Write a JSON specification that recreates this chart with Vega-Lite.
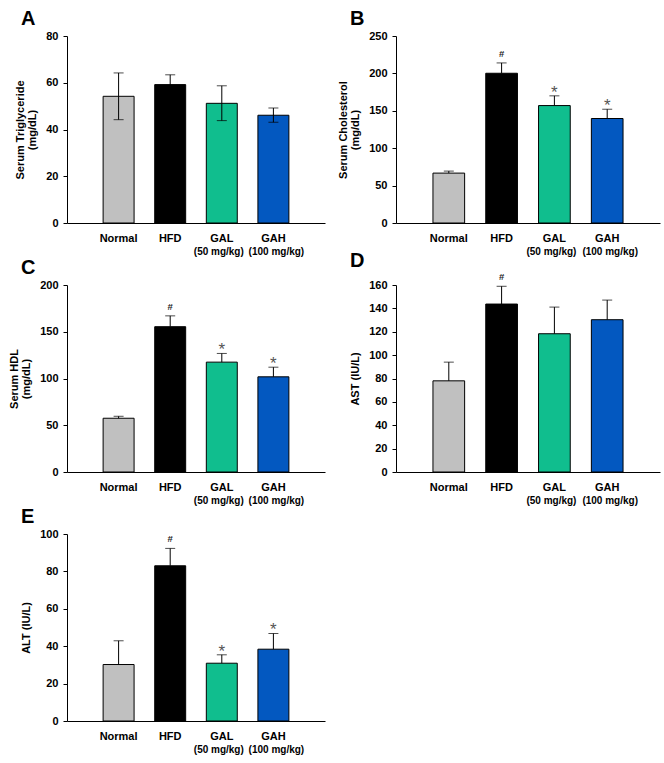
{
  "$schema": "https://vega.github.io/schema/vega-lite/v6.json",
  "background": "white",
  "padding": {"left": 8, "top": 9, "right": 2, "bottom": 2},
  "datasets": {
    "d": [
      {"panel": "A", "group": "Normal", "mean": 54.2, "lower": 44.2, "upper": 64.2, "sig": ""},
      {"panel": "A", "group": "HFD", "mean": 59.2, "lower": 55.0, "upper": 63.4, "sig": ""},
      {"panel": "A", "group": "GAL", "mean": 51.2, "lower": 43.8, "upper": 58.7, "sig": ""},
      {"panel": "A", "group": "GAH", "mean": 46.1, "lower": 43.1, "upper": 49.2, "sig": ""},
      {"panel": "B", "group": "Normal", "mean": 66.7, "lower": 66.7, "upper": 69.4, "sig": ""},
      {"panel": "B", "group": "HFD", "mean": 200.2, "lower": 200.2, "upper": 214.0, "sig": "#"},
      {"panel": "B", "group": "GAL", "mean": 157.0, "lower": 157.0, "upper": 170.0, "sig": "*"},
      {"panel": "B", "group": "GAH", "mean": 139.7, "lower": 139.7, "upper": 152.1, "sig": "*"},
      {"panel": "C", "group": "Normal", "mean": 57.5, "lower": 57.5, "upper": 59.6, "sig": ""},
      {"panel": "C", "group": "HFD", "mean": 155.4, "lower": 155.4, "upper": 167.0, "sig": "#"},
      {"panel": "C", "group": "GAL", "mean": 117.5, "lower": 117.5, "upper": 126.8, "sig": "*"},
      {"panel": "C", "group": "GAH", "mean": 101.8, "lower": 101.8, "upper": 112.1, "sig": "*"},
      {"panel": "D", "group": "Normal", "mean": 78.0, "lower": 78.0, "upper": 94.0, "sig": ""},
      {"panel": "D", "group": "HFD", "mean": 143.7, "lower": 143.7, "upper": 158.9, "sig": "#"},
      {"panel": "D", "group": "GAL", "mean": 118.3, "lower": 118.3, "upper": 141.1, "sig": ""},
      {"panel": "D", "group": "GAH", "mean": 130.3, "lower": 130.3, "upper": 147.1, "sig": ""},
      {"panel": "E", "group": "Normal", "mean": 30.2, "lower": 30.2, "upper": 42.9, "sig": ""},
      {"panel": "E", "group": "HFD", "mean": 83.0, "lower": 83.0, "upper": 92.3, "sig": "#"},
      {"panel": "E", "group": "GAL", "mean": 30.9, "lower": 30.9, "upper": 35.4, "sig": "*"},
      {"panel": "E", "group": "GAH", "mean": 38.4, "lower": 38.4, "upper": 46.8, "sig": "*"}
    ]
  },
  "columns": 2,
  "bounds": "flush",
  "spacing": {"row": 62, "column": 71},
  "concat": [
    {
      "title": {"text": "A"},
      "width": 258, "height": 187,
      "data": {"name": "d"},
      "transform": [{"filter": "datum.panel == 'A'"}],
      "resolve": {"axis": {"x": "independent"}},
      "layer": [
        {
          "mark": {"type": "bar", "stroke": "black", "strokeWidth": 1},
          "encoding": {
            "x": {"field": "group", "type": "nominal", "sort": ["Normal", "HFD", "GAL", "GAH"], "scale": {"paddingInner": 0.4, "paddingOuter": 0.7}, "axis": {"orient": "bottom", "title": null}},
            "y": {"field": "mean", "type": "quantitative", "scale": {"domain": [0, 80]}, "axis": {"values": [0, 20, 40, 60, 80], "title": ["Serum Triglyceride", "(mg/dL)"]}},
            "color": {"field": "group", "type": "nominal", "scale": {"domain": ["Normal", "HFD", "GAL", "GAH"], "range": ["#c0c0c0", "#000000", "#10be8e", "#0358c0"]}, "legend": null}
          }
        },
        {
          "mark": {"type": "rule", "color": "black", "strokeWidth": 1},
          "encoding": {
            "x": {"field": "group", "type": "nominal", "sort": ["Normal", "HFD", "GAL", "GAH"], "axis": {"orient": "bottom", "title": null, "domain": false, "labelPadding": 23, "labelFontSize": 10, "labelOffset": {"condition": {"test": "datum.value == 'GAL'", "value": -3}, "value": 3}, "labelExpr": "datum.value == 'GAL' ? '(50 mg/kg)' : datum.value == 'GAH' ? '(100 mg/kg)' : ''"}},
            "y": {"field": "lower", "type": "quantitative", "scale": {"domain": [0, 80]}, "axis": {"values": [0, 20, 40, 60, 80], "title": ["Serum Triglyceride", "(mg/dL)"]}},
            "y2": {"field": "upper"}
          }
        },
        {
          "mark": {"type": "tick", "color": "black", "thickness": 1, "size": 10},
          "encoding": {
            "x": {"field": "group", "type": "nominal", "sort": ["Normal", "HFD", "GAL", "GAH"], "axis": null},
            "y": {"field": "upper", "type": "quantitative", "scale": {"domain": [0, 80]}, "axis": {"values": [0, 20, 40, 60, 80], "title": ["Serum Triglyceride", "(mg/dL)"]}}
          }
        },
        {
          "mark": {"type": "tick", "color": "black", "thickness": 1, "size": 10},
          "encoding": {
            "x": {"field": "group", "type": "nominal", "sort": ["Normal", "HFD", "GAL", "GAH"], "axis": null},
            "y": {"field": "lower", "type": "quantitative", "scale": {"domain": [0, 80]}, "axis": {"values": [0, 20, 40, 60, 80], "title": ["Serum Triglyceride", "(mg/dL)"]}}
          }
        }
      ]
    },
    {
      "title": {"text": "B"},
      "width": 264, "height": 187,
      "data": {"name": "d"},
      "transform": [{"filter": "datum.panel == 'B'"}],
      "resolve": {"axis": {"x": "independent"}},
      "layer": [
        {
          "mark": {"type": "bar", "stroke": "black", "strokeWidth": 1},
          "encoding": {
            "x": {"field": "group", "type": "nominal", "sort": ["Normal", "HFD", "GAL", "GAH"], "scale": {"paddingInner": 0.4, "paddingOuter": 0.7}, "axis": {"orient": "bottom", "title": null}},
            "y": {"field": "mean", "type": "quantitative", "scale": {"domain": [0, 250]}, "axis": {"values": [0, 50, 100, 150, 200, 250], "title": ["Serum Cholesterol", "(mg/dL)"]}},
            "color": {"field": "group", "type": "nominal", "scale": {"domain": ["Normal", "HFD", "GAL", "GAH"], "range": ["#c0c0c0", "#000000", "#10be8e", "#0358c0"]}, "legend": null}
          }
        },
        {
          "mark": {"type": "rule", "color": "black", "strokeWidth": 1},
          "encoding": {
            "x": {"field": "group", "type": "nominal", "sort": ["Normal", "HFD", "GAL", "GAH"], "axis": {"orient": "bottom", "title": null, "domain": false, "labelPadding": 23, "labelFontSize": 10, "labelOffset": {"condition": {"test": "datum.value == 'GAL'", "value": -3}, "value": 3}, "labelExpr": "datum.value == 'GAL' ? '(50 mg/kg)' : datum.value == 'GAH' ? '(100 mg/kg)' : ''"}},
            "y": {"field": "lower", "type": "quantitative", "scale": {"domain": [0, 250]}, "axis": {"values": [0, 50, 100, 150, 200, 250], "title": ["Serum Cholesterol", "(mg/dL)"]}},
            "y2": {"field": "upper"}
          }
        },
        {
          "mark": {"type": "tick", "color": "black", "thickness": 1, "size": 10},
          "encoding": {
            "x": {"field": "group", "type": "nominal", "sort": ["Normal", "HFD", "GAL", "GAH"], "axis": null},
            "y": {"field": "upper", "type": "quantitative", "scale": {"domain": [0, 250]}, "axis": {"values": [0, 50, 100, 150, 200, 250], "title": ["Serum Cholesterol", "(mg/dL)"]}}
          }
        },
        {
          "transform": [{"filter": "datum.sig == '#'"}],
          "mark": {"type": "text", "fontSize": 9.5, "fontWeight": "bold", "baseline": "alphabetic", "dy": -6, "color": "#222"},
          "encoding": {
            "x": {"field": "group", "type": "nominal", "sort": ["Normal", "HFD", "GAL", "GAH"], "axis": null},
            "y": {"field": "upper", "type": "quantitative", "scale": {"domain": [0, 250]}, "axis": {"values": [0, 50, 100, 150, 200, 250], "title": ["Serum Cholesterol", "(mg/dL)"]}},
            "text": {"field": "sig"}
          }
        },
        {
          "transform": [{"filter": "datum.sig == '*'"}],
          "mark": {"type": "text", "fontSize": 17, "baseline": "alphabetic", "dy": 2, "color": "#555"},
          "encoding": {
            "x": {"field": "group", "type": "nominal", "sort": ["Normal", "HFD", "GAL", "GAH"], "axis": null},
            "y": {"field": "upper", "type": "quantitative", "scale": {"domain": [0, 250]}, "axis": {"values": [0, 50, 100, 150, 200, 250], "title": ["Serum Cholesterol", "(mg/dL)"]}},
            "text": {"field": "sig"}
          }
        }
      ]
    },
    {
      "title": {"text": "C"},
      "width": 258, "height": 187,
      "data": {"name": "d"},
      "transform": [{"filter": "datum.panel == 'C'"}],
      "resolve": {"axis": {"x": "independent"}},
      "layer": [
        {
          "mark": {"type": "bar", "stroke": "black", "strokeWidth": 1},
          "encoding": {
            "x": {"field": "group", "type": "nominal", "sort": ["Normal", "HFD", "GAL", "GAH"], "scale": {"paddingInner": 0.4, "paddingOuter": 0.7}, "axis": {"orient": "bottom", "title": null}},
            "y": {"field": "mean", "type": "quantitative", "scale": {"domain": [0, 200]}, "axis": {"values": [0, 50, 100, 150, 200], "title": ["Serum HDL", "(mg/dL)"]}},
            "color": {"field": "group", "type": "nominal", "scale": {"domain": ["Normal", "HFD", "GAL", "GAH"], "range": ["#c0c0c0", "#000000", "#10be8e", "#0358c0"]}, "legend": null}
          }
        },
        {
          "mark": {"type": "rule", "color": "black", "strokeWidth": 1},
          "encoding": {
            "x": {"field": "group", "type": "nominal", "sort": ["Normal", "HFD", "GAL", "GAH"], "axis": {"orient": "bottom", "title": null, "domain": false, "labelPadding": 23, "labelFontSize": 10, "labelOffset": {"condition": {"test": "datum.value == 'GAL'", "value": -3}, "value": 3}, "labelExpr": "datum.value == 'GAL' ? '(50 mg/kg)' : datum.value == 'GAH' ? '(100 mg/kg)' : ''"}},
            "y": {"field": "lower", "type": "quantitative", "scale": {"domain": [0, 200]}, "axis": {"values": [0, 50, 100, 150, 200], "title": ["Serum HDL", "(mg/dL)"]}},
            "y2": {"field": "upper"}
          }
        },
        {
          "mark": {"type": "tick", "color": "black", "thickness": 1, "size": 10},
          "encoding": {
            "x": {"field": "group", "type": "nominal", "sort": ["Normal", "HFD", "GAL", "GAH"], "axis": null},
            "y": {"field": "upper", "type": "quantitative", "scale": {"domain": [0, 200]}, "axis": {"values": [0, 50, 100, 150, 200], "title": ["Serum HDL", "(mg/dL)"]}}
          }
        },
        {
          "transform": [{"filter": "datum.sig == '#'"}],
          "mark": {"type": "text", "fontSize": 9.5, "fontWeight": "bold", "baseline": "alphabetic", "dy": -6, "color": "#222"},
          "encoding": {
            "x": {"field": "group", "type": "nominal", "sort": ["Normal", "HFD", "GAL", "GAH"], "axis": null},
            "y": {"field": "upper", "type": "quantitative", "scale": {"domain": [0, 200]}, "axis": {"values": [0, 50, 100, 150, 200], "title": ["Serum HDL", "(mg/dL)"]}},
            "text": {"field": "sig"}
          }
        },
        {
          "transform": [{"filter": "datum.sig == '*'"}],
          "mark": {"type": "text", "fontSize": 17, "baseline": "alphabetic", "dy": 2, "color": "#555"},
          "encoding": {
            "x": {"field": "group", "type": "nominal", "sort": ["Normal", "HFD", "GAL", "GAH"], "axis": null},
            "y": {"field": "upper", "type": "quantitative", "scale": {"domain": [0, 200]}, "axis": {"values": [0, 50, 100, 150, 200], "title": ["Serum HDL", "(mg/dL)"]}},
            "text": {"field": "sig"}
          }
        }
      ]
    },
    {
      "title": {"text": "D"},
      "width": 264, "height": 187,
      "data": {"name": "d"},
      "transform": [{"filter": "datum.panel == 'D'"}],
      "resolve": {"axis": {"x": "independent"}},
      "layer": [
        {
          "mark": {"type": "bar", "stroke": "black", "strokeWidth": 1},
          "encoding": {
            "x": {"field": "group", "type": "nominal", "sort": ["Normal", "HFD", "GAL", "GAH"], "scale": {"paddingInner": 0.4, "paddingOuter": 0.7}, "axis": {"orient": "bottom", "title": null}},
            "y": {"field": "mean", "type": "quantitative", "scale": {"domain": [0, 160]}, "axis": {"values": [0, 20, 40, 60, 80, 100, 120, 140, 160], "title": "AST (IU/L)"}},
            "color": {"field": "group", "type": "nominal", "scale": {"domain": ["Normal", "HFD", "GAL", "GAH"], "range": ["#c0c0c0", "#000000", "#10be8e", "#0358c0"]}, "legend": null}
          }
        },
        {
          "mark": {"type": "rule", "color": "black", "strokeWidth": 1},
          "encoding": {
            "x": {"field": "group", "type": "nominal", "sort": ["Normal", "HFD", "GAL", "GAH"], "axis": {"orient": "bottom", "title": null, "domain": false, "labelPadding": 23, "labelFontSize": 10, "labelOffset": {"condition": {"test": "datum.value == 'GAL'", "value": -3}, "value": 3}, "labelExpr": "datum.value == 'GAL' ? '(50 mg/kg)' : datum.value == 'GAH' ? '(100 mg/kg)' : ''"}},
            "y": {"field": "lower", "type": "quantitative", "scale": {"domain": [0, 160]}, "axis": {"values": [0, 20, 40, 60, 80, 100, 120, 140, 160], "title": "AST (IU/L)"}},
            "y2": {"field": "upper"}
          }
        },
        {
          "mark": {"type": "tick", "color": "black", "thickness": 1, "size": 10},
          "encoding": {
            "x": {"field": "group", "type": "nominal", "sort": ["Normal", "HFD", "GAL", "GAH"], "axis": null},
            "y": {"field": "upper", "type": "quantitative", "scale": {"domain": [0, 160]}, "axis": {"values": [0, 20, 40, 60, 80, 100, 120, 140, 160], "title": "AST (IU/L)"}}
          }
        },
        {
          "transform": [{"filter": "datum.sig == '#'"}],
          "mark": {"type": "text", "fontSize": 9.5, "fontWeight": "bold", "baseline": "alphabetic", "dy": -6, "color": "#222"},
          "encoding": {
            "x": {"field": "group", "type": "nominal", "sort": ["Normal", "HFD", "GAL", "GAH"], "axis": null},
            "y": {"field": "upper", "type": "quantitative", "scale": {"domain": [0, 160]}, "axis": {"values": [0, 20, 40, 60, 80, 100, 120, 140, 160], "title": "AST (IU/L)"}},
            "text": {"field": "sig"}
          }
        }
      ]
    },
    {
      "title": {"text": "E"},
      "width": 258, "height": 187,
      "data": {"name": "d"},
      "transform": [{"filter": "datum.panel == 'E'"}],
      "resolve": {"axis": {"x": "independent"}},
      "layer": [
        {
          "mark": {"type": "bar", "stroke": "black", "strokeWidth": 1},
          "encoding": {
            "x": {"field": "group", "type": "nominal", "sort": ["Normal", "HFD", "GAL", "GAH"], "scale": {"paddingInner": 0.4, "paddingOuter": 0.7}, "axis": {"orient": "bottom", "title": null}},
            "y": {"field": "mean", "type": "quantitative", "scale": {"domain": [0, 100]}, "axis": {"values": [0, 20, 40, 60, 80, 100], "title": "ALT (IU/L)"}},
            "color": {"field": "group", "type": "nominal", "scale": {"domain": ["Normal", "HFD", "GAL", "GAH"], "range": ["#c0c0c0", "#000000", "#10be8e", "#0358c0"]}, "legend": null}
          }
        },
        {
          "mark": {"type": "rule", "color": "black", "strokeWidth": 1},
          "encoding": {
            "x": {"field": "group", "type": "nominal", "sort": ["Normal", "HFD", "GAL", "GAH"], "axis": {"orient": "bottom", "title": null, "domain": false, "labelPadding": 23, "labelFontSize": 10, "labelOffset": {"condition": {"test": "datum.value == 'GAL'", "value": -3}, "value": 3}, "labelExpr": "datum.value == 'GAL' ? '(50 mg/kg)' : datum.value == 'GAH' ? '(100 mg/kg)' : ''"}},
            "y": {"field": "lower", "type": "quantitative", "scale": {"domain": [0, 100]}, "axis": {"values": [0, 20, 40, 60, 80, 100], "title": "ALT (IU/L)"}},
            "y2": {"field": "upper"}
          }
        },
        {
          "mark": {"type": "tick", "color": "black", "thickness": 1, "size": 10},
          "encoding": {
            "x": {"field": "group", "type": "nominal", "sort": ["Normal", "HFD", "GAL", "GAH"], "axis": null},
            "y": {"field": "upper", "type": "quantitative", "scale": {"domain": [0, 100]}, "axis": {"values": [0, 20, 40, 60, 80, 100], "title": "ALT (IU/L)"}}
          }
        },
        {
          "transform": [{"filter": "datum.sig == '#'"}],
          "mark": {"type": "text", "fontSize": 9.5, "fontWeight": "bold", "baseline": "alphabetic", "dy": -6, "color": "#222"},
          "encoding": {
            "x": {"field": "group", "type": "nominal", "sort": ["Normal", "HFD", "GAL", "GAH"], "axis": null},
            "y": {"field": "upper", "type": "quantitative", "scale": {"domain": [0, 100]}, "axis": {"values": [0, 20, 40, 60, 80, 100], "title": "ALT (IU/L)"}},
            "text": {"field": "sig"}
          }
        },
        {
          "transform": [{"filter": "datum.sig == '*'"}],
          "mark": {"type": "text", "fontSize": 17, "baseline": "alphabetic", "dy": 2, "color": "#555"},
          "encoding": {
            "x": {"field": "group", "type": "nominal", "sort": ["Normal", "HFD", "GAL", "GAH"], "axis": null},
            "y": {"field": "upper", "type": "quantitative", "scale": {"domain": [0, 100]}, "axis": {"values": [0, 20, 40, 60, 80, 100], "title": "ALT (IU/L)"}},
            "text": {"field": "sig"}
          }
        }
      ]
    }
  ],
  "config": {
    "font": "Liberation Sans",
    "view": {"stroke": null},
    "title": {"anchor": "start", "frame": "group", "fontSize": 20, "fontWeight": "bold", "color": "black", "dx": -46, "offset": 1},
    "axis": {"grid": false, "domainColor": "black", "domainWidth": 1, "tickColor": "black", "labelColor": "black", "titleColor": "black", "labelFont": "Liberation Sans", "labelFontWeight": "bold", "labelFontSize": 11, "titleFont": "Liberation Sans", "titleFontWeight": "bold", "titleFontSize": 11, "titleLineHeight": 12},
    "axisY": {"tickSize": 4, "labelPadding": 5, "titlePadding": 8},
    "axisX": {"ticks": false, "labelPadding": 9, "labelAngle": 0}
  }
}
